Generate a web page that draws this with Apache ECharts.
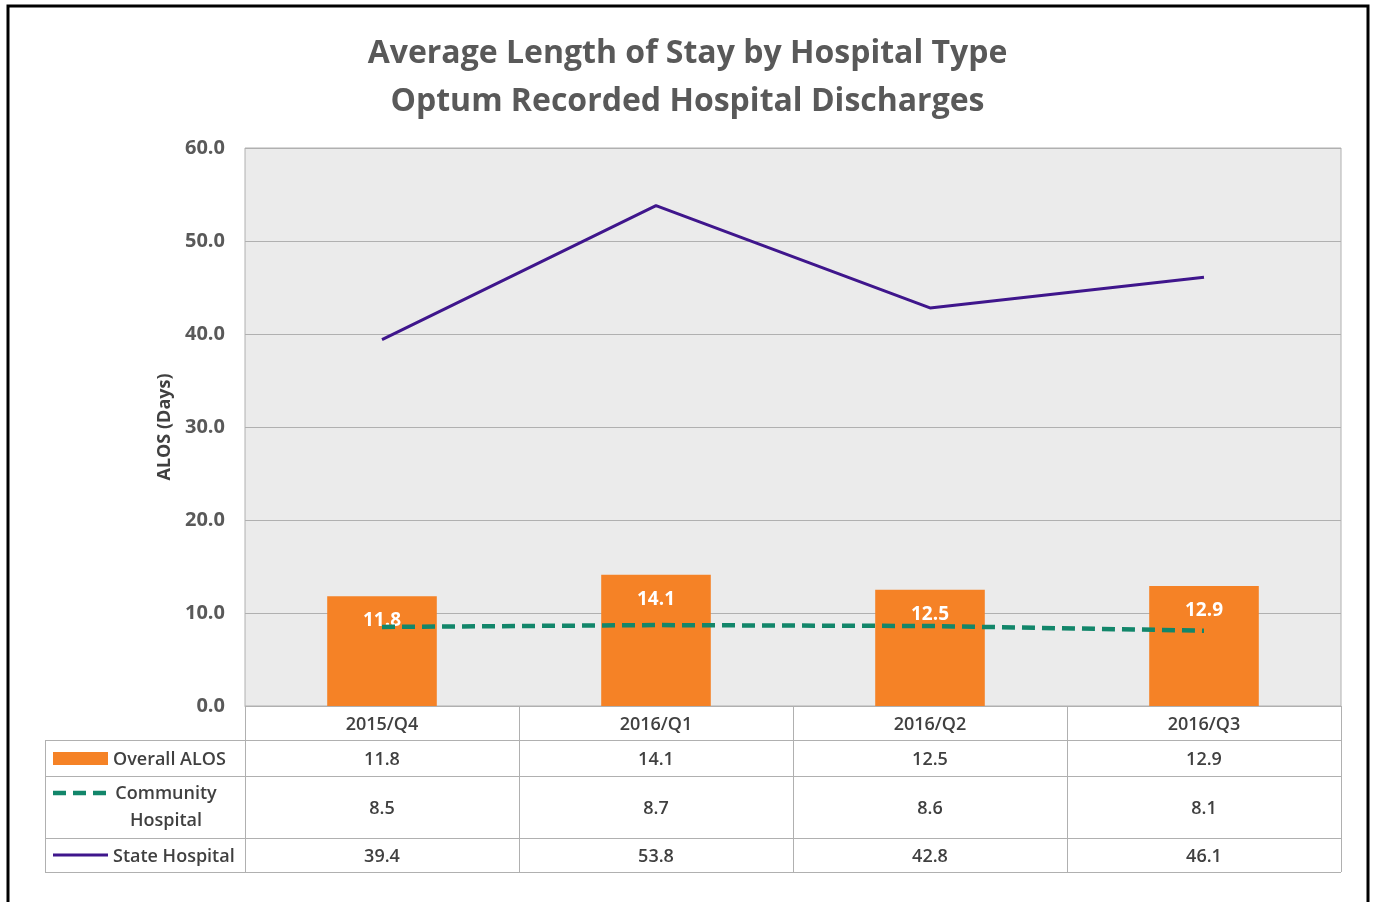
<!DOCTYPE html>
<html>
<head>
<meta charset="utf-8">
<script src="https://cdn.jsdelivr.net/npm/echarts@6/dist/echarts.min.js"></script>
<style>
html,body{margin:0;padding:0;background:#fff;}
#c{width:1375px;height:902px;}
</style>
</head>
<body>
<div id="c"></div>
<script>
const categories = ['2015/Q4', '2016/Q1', '2016/Q2', '2016/Q3'];
const overallALOS = [11.8, 14.1, 12.5, 12.9];
const communityHospital = [8.5, 8.7, 8.6, 8.1];
const stateHospital = [39.4, 53.8, 42.8, 46.1];
const seriesNames = ['Overall ALOS', 'Community\nHospital', 'State Hospital'];

const COL_ORANGE = '#F58226';
const COL_GREEN = '#12866A';
const COL_PURPLE = '#3F168C';
const TXT = '#404040';
const GRIDC = '#B0B0B0';
const FONT = '"Open Sans", Lato, sans-serif';

const W = 1375, H = 902;
const plotLeft = 245, plotRight = 1341, plotTop = 148, plotBottom = 706;

const chart = echarts.init(document.getElementById('c'), null, {renderer: 'canvas'});

const option = {
  backgroundColor: '#fff',
  animation: false,
  textStyle: {fontFamily: FONT},
  title: {
    text: 'Average Length of Stay by Hospital Type\nOptum Recorded Hospital Discharges',
    left: 'center',
    top: 25,
    textStyle: {fontFamily: FONT, fontSize: 32, fontWeight: 'bold', color: '#595959', lineHeight: 48}
  },
  grid: {
    left: plotLeft, right: W - plotRight, top: plotTop, bottom: H - plotBottom,
    show: true, backgroundColor: '#EBEBEB', borderColor: GRIDC, borderWidth: 1
  },
  xAxis: {
    type: 'category',
    data: categories,
    axisLine: {lineStyle: {color: GRIDC, width: 1}},
    axisTick: {show: false},
    axisLabel: {color: TXT, fontSize: 18, fontWeight: 600, margin: 10, fontFamily: FONT}
  },
  yAxis: {
    type: 'value',
    min: 0, max: 60, interval: 10,
    name: 'ALOS (Days)',
    nameLocation: 'middle',
    nameGap: 67,
    nameTextStyle: {color: TXT, fontSize: 18, fontWeight: 'bold', fontFamily: FONT},
    axisLine: {show: false},
    axisTick: {show: false},
    axisLabel: {color: '#595959', fontSize: 20, fontWeight: 'bold', margin: 20, fontFamily: FONT,
      formatter: v => v.toFixed(1)},
    splitLine: {lineStyle: {color: GRIDC, width: 1}}
  },
  series: [
    {
      name: 'Overall ALOS', type: 'bar', data: overallALOS, barWidth: '40%',
      itemStyle: {color: COL_ORANGE},
      label: {show: true, position: 'insideTop', distance: 15, color: '#fff', fontSize: 19, fontWeight: 'bold',
        fontFamily: FONT, formatter: p => p.value.toFixed(1)},
      z: 2
    },
    {
      name: 'Community Hospital', type: 'line', data: communityHospital, symbol: 'none',
      lineStyle: {color: COL_GREEN, width: 4.5, type: [13, 7]},
      z: 3
    },
    {
      name: 'State Hospital', type: 'line', data: stateHospital, symbol: 'none',
      lineStyle: {color: COL_PURPLE, width: 3},
      z: 4
    }
  ]
};
chart.setOption(option);

// ---- data table beneath the plot ----
function buildTable() {
  const n = categories.length;
  const colW = (plotRight - plotLeft) / n;
  const tableLeft = 45;
  const rowH = [34, 36, 62, 34]; // header, overall, community, state
  const rowTop = [plotBottom];
  for (let i = 0; i < rowH.length; i++) rowTop.push(rowTop[i] + rowH[i]);
  const tableBottom = rowTop[rowTop.length - 1];
  const els = [];
  const ls = {stroke: GRIDC, lineWidth: 1};
  const font = '600 18px ' + FONT;
  const dy = 2;
  for (let r = 1; r < rowTop.length; r++) {
    els.push({type: 'line', shape: {x1: tableLeft, y1: rowTop[r] + 0.5, x2: plotRight, y2: rowTop[r] + 0.5}, style: ls, silent: true});
  }
  els.push({type: 'line', shape: {x1: tableLeft + 0.5, y1: rowTop[1], x2: tableLeft + 0.5, y2: tableBottom}, style: ls});
  for (let c = 0; c <= n; c++) {
    const x = Math.round(plotLeft + c * colW) + 0.5;
    els.push({type: 'line', shape: {x1: x, y1: plotBottom, x2: x, y2: tableBottom}, style: ls});
  }
  const rowsData = [overallALOS, communityHospital, stateHospital];
  for (let r = 0; r < rowsData.length; r++) {
    const cy = rowTop[r + 1] + rowH[r + 1] / 2 + dy;
    for (let c = 0; c < n; c++) {
      const cx = chart.convertToPixel({xAxisIndex: 0}, categories[c]);
      els.push({type: 'text', x: cx, y: cy, style: {text: rowsData[r][c].toFixed(1), fill: TXT,
        font: font, align: 'center', verticalAlign: 'middle'}});
    }
  }
  const kx1 = 53, kx2 = 108;
  let cy = rowTop[1] + rowH[1] / 2;
  els.push({type: 'rect', shape: {x: kx1, y: cy - 6, width: kx2 - kx1, height: 13}, style: {fill: COL_ORANGE}});
  els.push({type: 'text', x: 113, y: cy + dy, style: {text: seriesNames[0], fill: TXT, font: font, align: 'left', verticalAlign: 'middle'}});
  cy = rowTop[2] + rowH[2] / 2;
  els.push({type: 'line', shape: {x1: kx1, y1: cy - 14, x2: kx2, y2: cy - 14}, style: {stroke: COL_GREEN, lineWidth: 4.5, lineDash: [13, 7]}});
  els.push({type: 'text', x: 166, y: cy, style: {text: seriesNames[1], fill: TXT, font: font, align: 'center', verticalAlign: 'middle', lineHeight: 27}});
  cy = rowTop[3] + rowH[3] / 2;
  els.push({type: 'line', shape: {x1: kx1, y1: cy, x2: kx2, y2: cy}, style: {stroke: COL_PURPLE, lineWidth: 3}});
  els.push({type: 'text', x: 113, y: cy + dy, style: {text: seriesNames[2], fill: TXT, font: font, align: 'left', verticalAlign: 'middle'}});
  els.push({type: 'rect', shape: {x: 8, y: 6, width: 1360, height: 905}, style: {fill: 'none', stroke: '#000', lineWidth: 3}, z: 100});
  chart.setOption({graphic: {elements: els}});
}
buildTable();
</script>
</body>
</html>
